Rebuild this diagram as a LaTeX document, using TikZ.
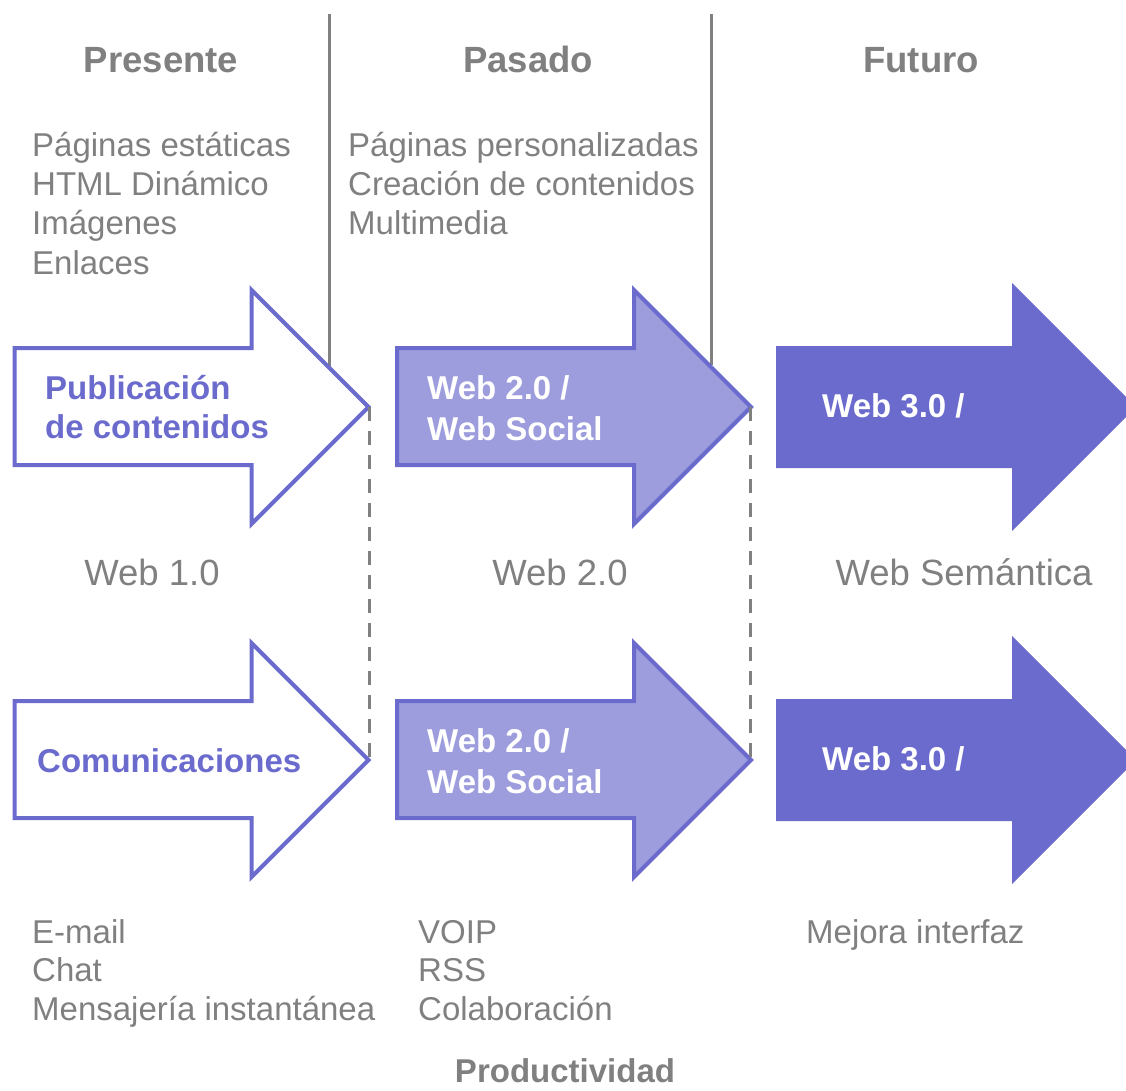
\documentclass[tikz,border=0pt]{standalone}
\usepackage{fontspec}
\setmainfont{Liberation Sans}
\definecolor{violeta}{HTML}{6B6BCE}
\definecolor{lila}{HTML}{9D9DDE}
\definecolor{gris}{HTML}{808080}
\begin{document}
\begin{tikzpicture}[x=1pt,y=-1pt,
  flechablanca/.style={draw=violeta,line width=4pt,fill=white,line join=miter},
  flechalila/.style={draw=violeta,line width=4pt,fill=lila,line join=miter},
  flechaplena/.style={fill=violeta},
  divisor/.style={draw=gris,line width=3pt},
  guia/.style={draw=gris,line width=3pt,dash pattern=on 14pt off 10pt},
  titulo/.style={font=\fontsize{36.5}{44}\selectfont\bfseries,text=gris,inner sep=0pt,anchor=base},
  lista/.style={font=\fontsize{33}{40}\selectfont,text=gris,inner sep=0pt,anchor=base west},
  etiqueta/.style={font=\fontsize{33}{40}\selectfont\bfseries,inner sep=0pt,anchor=base west},
  version/.style={font=\fontsize{36.5}{44}\selectfont,text=gris,inner sep=0pt,anchor=base}]
\useasboundingbox (0,0) rectangle (1126,1090);

% column dividers
\coordinate (d1a) at (329,14);
\coordinate (d1b) at (329,366);
\coordinate (d2a) at (711,14);
\coordinate (d2b) at (711,365);
\draw[divisor] (d1a) -- (d1b);
\draw[divisor] (d2a) -- (d2b);

% arrows, one row for each theme
\foreach \dy/\fila in {0/a,353/b}{
  \begin{scope}[yshift=-\dy pt]
    \draw[flechablanca] (14.5,348) -- (251.5,348) -- (251.5,290) -- (368.5,407)
      -- (251.5,524) -- (251.5,465) -- (14.5,465) -- cycle;
    \draw[flechalila] (397,348) -- (634,348) -- (634,290) -- (751,407)
      -- (634,524) -- (634,465) -- (397,465) -- cycle;
    \fill[flechaplena] (776,346) -- (1012,346) -- (1012,283) -- (1136,407)
      -- (1012,531) -- (1012,468) -- (776,468) -- cycle;
    \coordinate (p1\fila) at (369,407);
    \coordinate (p2\fila) at (750,407);
  \end{scope}
}

% era boundaries
\draw[guia] (p1a) -- (p1b);
\draw[guia] (p2a) -- (p2b);

% column headings
\node[titulo] (presente) at (161,72) {Presente};
\node[titulo] (pasado) at (528,72) {Pasado};
\node[titulo] (futuro) at (921,72) {Futuro};

% publishing features
\foreach \t [count=\i] in {Páginas estáticas,HTML Dinámico,Imágenes,Enlaces}
  \node[lista] (pub1\i) at (32,{156.5+39.2*(\i-1)}) {\t};
\foreach \t [count=\i] in {Páginas personalizadas,Creación de contenidos,Multimedia}
  \node[lista] (pub2\i) at (348,{156.5+39.2*(\i-1)}) {\t};

% labels on the top arrows
\node[etiqueta,text=violeta] (pubA) at (45,399) {Publicación};
\node[etiqueta,text=violeta] (pubB) at (45,438) {de contenidos};
\node[etiqueta,text=white] (socA) at (427,399) {Web 2.0 /};
\node[etiqueta,text=white] (socB) at (427,440) {Web Social};
\node[etiqueta,text=white] (semA) at (822,417) {Web 3.0 /};

% versions
\node[version] (v1) at (152,585) {Web 1.0};
\node[version] (v2) at (560,585) {Web 2.0};
\node[version] (v3) at (964,585) {Web Semántica};

% labels on the bottom arrows
\node[etiqueta,text=violeta] (com) at (37,772) {Comunicaciones};
\node[etiqueta,text=white] (socC) at (427,752) {Web 2.0 /};
\node[etiqueta,text=white] (socD) at (427,793) {Web Social};
\node[etiqueta,text=white] (semB) at (822,770) {Web 3.0 /};

% communication features
\foreach \t [count=\i] in {E-mail,Chat,Mensajería instantánea}
  \node[lista] (com1\i) at (32,{943+38.8*(\i-1)}) {\t};
\foreach \t [count=\i] in {VOIP,RSS,Colaboración}
  \node[lista] (com2\i) at (418,{943+38.8*(\i-1)}) {\t};
\node[lista] (com31) at (806,943) {Mejora interfaz};

\node[titulo,font=\fontsize{33}{40}\selectfont\bfseries] (prod) at (565,1082) {Productividad};
\end{tikzpicture}
\end{document}
